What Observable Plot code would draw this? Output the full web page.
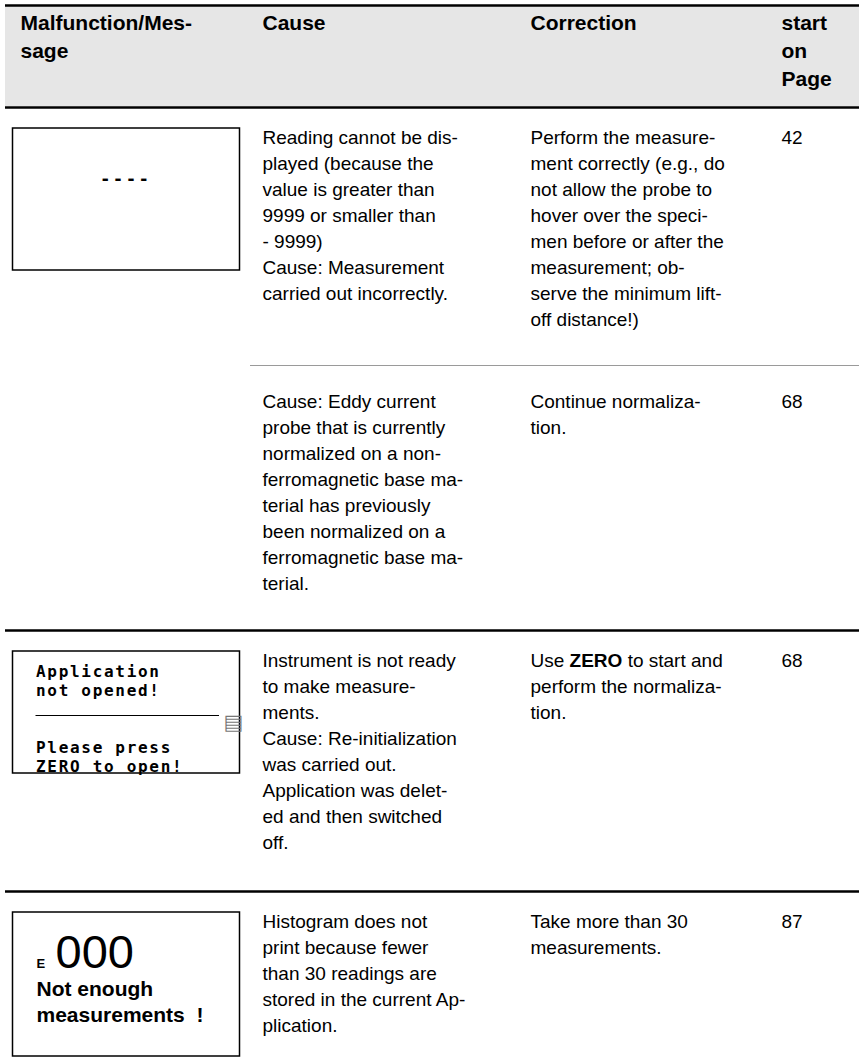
<!DOCTYPE html>
<html><head><meta charset="utf-8">
<script src="https://cdn.jsdelivr.net/npm/d3@7"></script>
<script src="https://cdn.jsdelivr.net/npm/@observablehq/plot@0.6"></script>
<style>
html,body{margin:0;padding:0;background:#fff;}
</style></head><body><div id="chart"></div>
<script>
// ---------- DATA ----------
const headers = [["Malfunction/Mes-","sage"],["Cause"],["Correction"],["start","on","Page"]];
const causes = [
  ["Reading cannot be dis-","played (because the","value is greater than","9999 or smaller than","- 9999)","Cause: Measurement","carried out incorrectly."],
  ["Cause: Eddy current","probe that is currently","normalized on a non-","ferromagnetic base ma-","terial has previously","been normalized on a","ferromagnetic base ma-","terial."],
  ["Instrument is not ready","to make measure-","ments.","Cause: Re-initialization","was carried out.","Application was delet-","ed and then switched","off."],
  ["Histogram does not","print because fewer","than 30 readings are","stored in the current Ap-","plication."]
];
const corrections = [
  ["Perform the measure-","ment correctly (e.g., do","not allow the probe to","hover over the speci-","men before or after the","measurement; ob-","serve the minimum lift-","off distance!)"],
  ["Continue normaliza-","tion."],
  ["Use ZERO to start and","perform the normaliza-","tion."],
  ["Take more than 30","measurements."]
];
const pages = ["42","68","68","87"];
const screen1 = ["- - - -"];
const screen2Top = ["Application","not opened!"];
const screen2Bottom = ["Please press","ZERO to open!"];
const screen2Icon = ["▤"];
const screen3Code = ["E","000"];
const screen3Text = ["Not enough","measurements  !"];

// ---------- LAYOUT ----------
const W = 859, H = 1058;
const colX = [20, 262, 530, 781];
const tableLeft = 5;
const headerBand = {top: 6, bottom: 106};
const headerBase = 29, headerLH = 28;
const rowTop = [107, 365, 630, 891];      // row starts (separators)
const rowBaseOffset = [36, 42, 36, 36], bodyLH = 26;
const thickRules = [5, 107, 630, 891];
const thinRules = [{y: 365, x1: 250}];
const box = {x1: 12.5, x2: 239.5};
const boxes = [{row: 0, top: 128, bottom: 270}, {row: 2, top: 651, bottom: 773}, {row: 3, top: 912, bottom: 1056}];
const sans = "Liberation Sans, Arial, Helvetica, sans-serif";
const mono = "DejaVu Sans Mono, monospace";

// build table cells
const headerCells = headers.flatMap((lines, c) => lines.map((t, i) => ({t, x: colX[c], y: headerBase + i * headerLH})));
const bodyCells = [];
const base = r => rowTop[r] + rowBaseOffset[r];
causes.forEach((lines, r) => lines.forEach((t, i) => bodyCells.push({t, x: colX[1], y: base(r) + i * bodyLH})));
corrections.forEach((lines, r) => lines.forEach((t, i) => bodyCells.push({t, x: colX[2], y: base(r) + i * bodyLH})));
pages.forEach((t, r) => bodyCells.push({t, x: colX[3], y: base(r)}));

const b1 = boxes[0], b2 = boxes[1], b3 = boxes[2];
const sx = 35.5; // screen text left
const s1 = screen1.map(t => ({t, x: (box.x1 + box.x2) / 2 - 2, y: b1.top + 56.5}));
const s2 = [
  ...screen2Top.map((t, i) => ({t, x: sx, y: b2.top + 25 + i * 19})),
  ...screen2Bottom.map((t, i) => ({t, x: sx, y: b2.top + 101 + i * 19}))
];
const s2rule = [{x1: sx, x2: 219, y: b2.top + 64}];
const s2icon = screen2Icon.map(t => ({t, x: 233, y: b2.top + 71}));
const s3code = [{t: screen3Code[0], x: 36, y: b3.top + 55}, {t: screen3Code[1], x: 55, y: b3.top + 55}];
const s3text = screen3Text.map((t, i) => ({t, x: 36, y: b3.top + 83 + i * 26}));

const chart = Plot.plot({
  width: W, height: H,
  margin: 0,
  x: {domain: [0, W], range: [0, W], axis: null},
  y: {domain: [0, H], range: [0, H], axis: null},
  style: {background: "#fff", fontFamily: sans},
  marks: [
    Plot.rect([headerBand], {x1: tableLeft, x2: W, y1: d => d.top, y2: d => d.bottom, fill: "#e6e6e6"}),
    Plot.ruleY(thickRules, {x1: tableLeft, x2: W, y: d => d, stroke: "#000", strokeWidth: 2.6}),
    Plot.ruleY(thinRules, {x1: d => d.x1, x2: W, y: d => d.y, stroke: "#9a9a9a", strokeWidth: 1}),
    Plot.text(headerCells, {x: "x", y: "y", text: "t", textAnchor: "start", lineAnchor: "bottom", fontSize: 21, fontWeight: "bold", fontFamily: sans, fill: "#000"}),
    Plot.text(bodyCells, {x: "x", y: "y", text: "t", textAnchor: "start", lineAnchor: "bottom", fontSize: 19, fontFamily: sans, fill: "#000"}),
    Plot.rect(boxes, {x1: box.x1, x2: box.x2, y1: "top", y2: "bottom", fill: "none", stroke: "#000", strokeWidth: 1.5}),
    Plot.text(s1, {x: "x", y: "y", text: "t", textAnchor: "middle", lineAnchor: "bottom", fontSize: 21, fontWeight: "bold", fontFamily: sans, fill: "#000"}),
    Plot.text(s2, {x: "x", y: "y", text: "t", textAnchor: "start", lineAnchor: "bottom", fontSize: 16, fontWeight: "bold", fontFamily: mono, fill: "#000"}),
    Plot.ruleY(s2rule, {x1: "x1", x2: "x2", y: "y", stroke: "#000", strokeWidth: 1}),
    Plot.text(s2icon, {x: "x", y: "y", text: "t", textAnchor: "middle", lineAnchor: "middle", fontSize: 21, fontFamily: "DejaVu Sans", fill: "#777"}),
    Plot.text(s3code, {x: "x", y: "y", text: "t", textAnchor: "start", lineAnchor: "bottom", fontSize: 13, fontFamily: sans, fill: "#000"}),
    Plot.text(s3text, {x: "x", y: "y", text: "t", textAnchor: "start", lineAnchor: "bottom", fontSize: 21, fontWeight: "bold", fontFamily: sans, fill: "#000"})
  ]
});
document.getElementById("chart").appendChild(chart);

// styling touches: letter spacing for LCD text, bold keyword inside correction text, mixed sizes
const svg = d3.select(chart);
const monoSet = new Set([...screen2Top, ...screen2Bottom]);
svg.selectAll("text").filter(function () { return monoSet.has(this.textContent); }).style("letter-spacing", "1.7px");
svg.selectAll("text").filter(function () { return this.textContent === "Use ZERO to start and"; }).each(function () {
  const el = d3.select(this);
  el.text("");
  el.append("tspan").text("Use ");
  el.append("tspan").attr("font-weight", "bold").text("ZERO");
  el.append("tspan").text(" to start and");
});
svg.selectAll("text").filter(function () { return this.textContent === screen3Code[0]; }).attr("font-size", 13).attr("font-weight", "bold");
svg.selectAll("text").filter(function () { return this.textContent === screen3Code[1]; }).attr("font-size", 47).attr("font-weight", "normal");
</script></body></html>
